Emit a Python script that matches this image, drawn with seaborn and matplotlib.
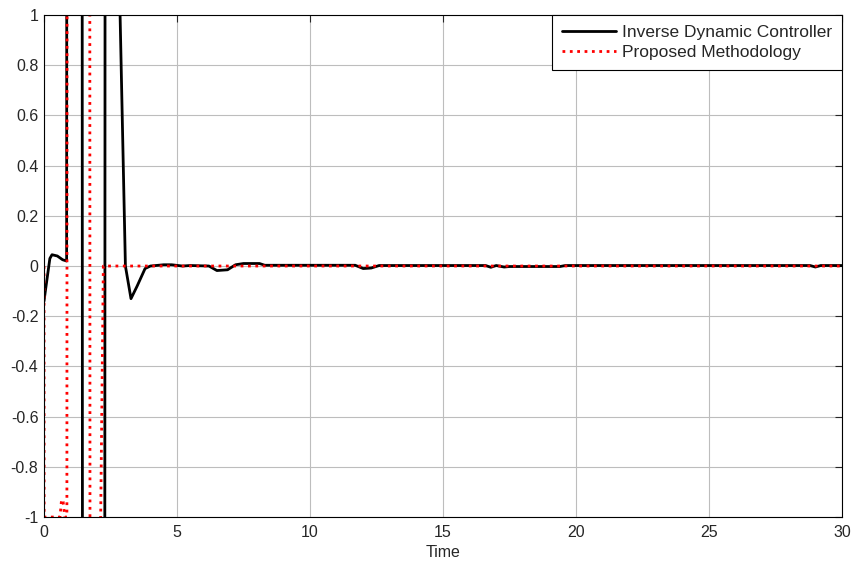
import matplotlib
matplotlib.use("Agg")
import matplotlib.pyplot as plt
import pandas as pd
import seaborn as sns
from matplotlib.ticker import FixedLocator, FixedFormatter

# Inverse Dynamic Controller (black, solid)
idc_t = [0, 0.05, 0.22, 0.3, 0.5, 0.7, 0.85, 0.87, 1.42, 1.46, 2.27, 2.31,
         2.8, 2.86, 3.06, 3.27, 3.5, 3.8, 4.0, 4.5, 4.8, 5.2, 5.5, 6.2, 6.5,
         6.9, 7.2, 7.5, 8.1, 8.3, 11.7, 12.0, 12.3, 12.6, 16.6, 16.8, 17.0,
         17.3, 17.5, 19.4, 19.6, 28.8, 29.0, 29.2, 30]
idc_y = [-0.14, -0.1, 0.03, 0.045, 0.04, 0.025, 0.02, 5, 5, -5, -5, 5, 3,
         1.0, 0.0, -0.13, -0.08, -0.01, 0.0, 0.005, 0.005, 0.0, 0.002, 0.0,
         -0.018, -0.015, 0.005, 0.01, 0.01, 0.003, 0.003, -0.01, -0.008,
         0.002, 0.002, -0.005, 0.002, -0.004, -0.002, -0.002, 0.002, 0.002,
         -0.004, 0.002, 0.002]

# Proposed Methodology (red, dotted)
pm_t = [0, 0.02, 0.05, 0.6, 0.66, 0.72, 0.78, 0.86, 0.88, 1.71, 1.74, 2.13,
        2.23, 30]
pm_y = [0, -5, -1.0, -1.0, -0.93, -0.94, -1.0, -1.0, 5, 5, -5, -1.0, 0, 0]

x_ticks = [0, 5, 10, 15, 20, 25, 30]
y_ticks = [-1, -0.8, -0.6, -0.4, -0.2, 0, 0.2, 0.4, 0.6, 0.8, 1]
y_labels = ["-1", "-0.8", "-0.6", "-0.4", "-0.2", "0", "0.2", "0.4", "0.6",
            "0.8", "1"]

sns.set_style("white")
plt.rcParams["font.family"] = ["Liberation Sans", "DejaVu Sans"]

df_idc = pd.DataFrame({"Time": idc_t, "value": idc_y})
df_pm = pd.DataFrame({"Time": pm_t, "value": pm_y})

fig = plt.figure(figsize=(8.53, 5.62), dpi=100)
ax = fig.add_axes([0.0516, 0.080, 0.9355, 0.8933])

sns.lineplot(data=df_idc, x="Time", y="value", ax=ax, color="black",
             linewidth=2, sort=False, estimator=None,
             label="Inverse Dynamic Controller")
sns.lineplot(data=df_pm, x="Time", y="value", ax=ax, color="red",
             linewidth=2, linestyle=":", sort=False, estimator=None,
             label="Proposed Methodology")

ax.set_xlim(0, 30)
ax.set_ylim(-1, 1)
ax.xaxis.set_major_locator(FixedLocator(x_ticks))
ax.yaxis.set_major_locator(FixedLocator(y_ticks))
ax.yaxis.set_major_formatter(FixedFormatter(y_labels))
ax.set_xlabel("Time", fontsize=11.5, labelpad=3)
ax.set_ylabel("")
ax.tick_params(axis="both", direction="in", length=5, labelsize=11.5,
               top=True, right=True)
ax.tick_params(axis="x", pad=6)
ax.tick_params(axis="y", pad=4)
ax.grid(True, color="#bdbdbd", linewidth=0.8)
for s in ax.spines.values():
    s.set_color("black")
    s.set_linewidth(0.8)

leg = ax.legend(loc="upper right", fontsize=12.5, fancybox=False,
                framealpha=1, edgecolor="black", borderaxespad=0,
                handlelength=3.1, handletextpad=0.38, borderpad=0.55,
                labelspacing=0.3)
leg.get_frame().set_linewidth(0.8)

fig.savefig("out.png", dpi=100)
plt.close(fig)
